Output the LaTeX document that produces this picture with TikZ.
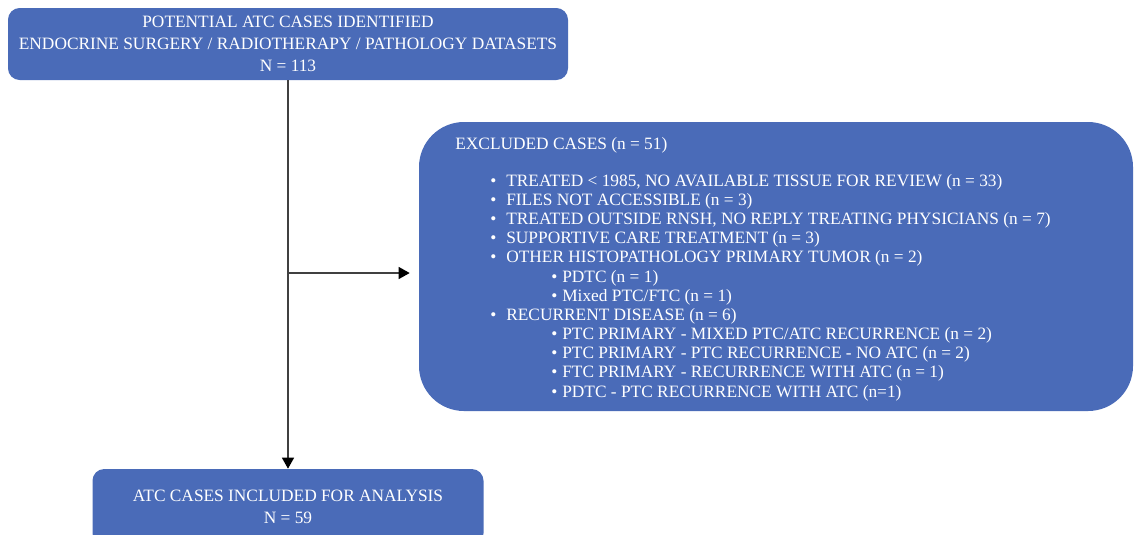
\documentclass[tikz,border=0pt]{standalone}
\usepackage{fontspec}
\setmainfont{Liberation Serif}
\usetikzlibrary{arrows.meta,positioning}

\definecolor{boxblue}{RGB}{74,107,184}
\definecolor{linegray}{RGB}{64,64,64}

\newcommand{\itemone}[1]{\hspace*{21pt}\makebox[9.6pt][l]{\textbullet}#1}
\newcommand{\itemtwo}[1]{\hspace*{57.6pt}\makebox[6.6pt][l]{\textbullet}#1}

\begin{document}
\begin{tikzpicture}[x=0.6pt,y=-0.6pt,>={Triangle[length=6.6pt,width=7.2pt,color=black]}]
  \tikzset{every node/.style={font=\fontsize{10.4}{13.2}\selectfont,text=white}}
  \tikzstyle{stagebox}=[fill=boxblue,draw=none,rounded corners=7pt,align=center,inner sep=0pt]
  \tikzstyle{flow}=[draw=linegray,line width=0.8pt]

  \useasboundingbox (0,0) rectangle (1134,534);

  \node[stagebox,minimum width=336pt,minimum height=43.2pt] (found) at (288,44)
    {POTENTIAL ATC CASES IDENTIFIED\\ENDOCRINE SURGERY / RADIOTHERAPY / PATHOLOGY DATASETS\\N = 113};
  \node[stagebox,minimum width=428.4pt,minimum height=173.4pt,rounded corners=27pt] (excl) at (776,266.5) {};
  \node[stagebox,minimum width=234.6pt,minimum height=45.6pt] (incl) at (288,507)
    {ATC CASES INCLUDED FOR ANALYSIS\\N = 59};

  % list of exclusions (base = last line)
  \node[anchor=base west,align=left,inner sep=0pt,font=\fontsize{10.4}{11.5}\selectfont] (excltext) at (455,397)
    {EXCLUDED CASES (n = 51)\\[10.7pt]
     \itemone{TREATED < 1985, NO AVAILABLE TISSUE FOR REVIEW (n = 33)}\\
     \itemone{FILES NOT ACCESSIBLE (n = 3)}\\
     \itemone{TREATED OUTSIDE RNSH, NO REPLY TREATING PHYSICIANS (n = 7)}\\
     \itemone{SUPPORTIVE CARE TREATMENT (n = 3)}\\
     \itemone{OTHER HISTOPATHOLOGY PRIMARY TUMOR (n = 2)}\\
     \itemtwo{PDTC (n = 1)}\\
     \itemtwo{Mixed PTC/FTC (n = 1)}\\
     \itemone{RECURRENT DISEASE (n = 6)}\\
     \itemtwo{PTC PRIMARY - MIXED PTC/ATC RECURRENCE (n = 2)}\\
     \itemtwo{PTC PRIMARY - PTC RECURRENCE - NO ATC (n = 2)}\\
     \itemtwo{FTC PRIMARY - RECURRENCE WITH ATC (n = 1)}\\
     \itemtwo{PDTC - PTC RECURRENCE WITH ATC (n=1)}};

  \coordinate (branch) at (288,273);

  \draw[flow,->] (found.south) -- (incl.north);
  \draw[flow,->,shorten >=5.4pt] (branch) -- (branch -| excl.west);
\end{tikzpicture}
\end{document}
